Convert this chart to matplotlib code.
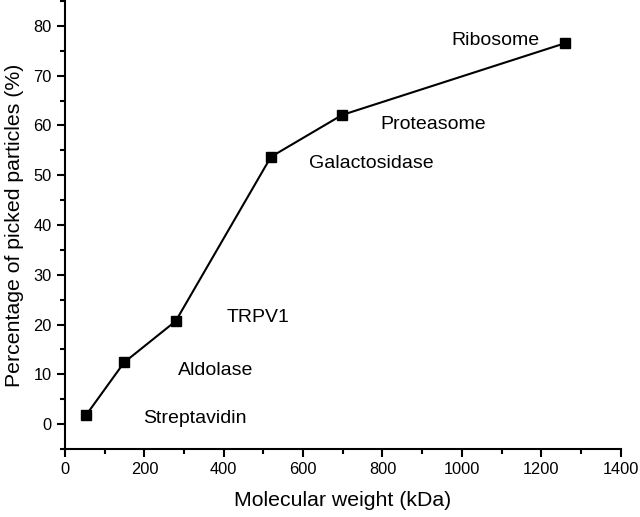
import matplotlib
matplotlib.use('Agg')
import matplotlib.pyplot as plt
from matplotlib.ticker import MultipleLocator

plt.rcParams['font.family'] = ['Liberation Sans', 'DejaVu Sans']

# data
mw = [53, 149, 279, 519, 698, 1259]
picked = [1.8, 12.4, 20.7, 53.7, 62.1, 76.5]

names = ['Streptavidin', 'Aldolase', 'TRPV1', 'Galactosidase', 'Proteasome', 'Ribosome']
label_x = [196, 284, 408, 616, 795, 973]
label_y = [1.2, 10.8, 21.5, 52.3, 60.1, 77.0]

fig = plt.figure(figsize=(6.4, 5.17), dpi=100)
ax = fig.add_axes([0.1016, 0.1315, 0.868, 0.8665])

ax.plot(mw, picked, color='black', linewidth=1.5, marker='s', markersize=6.5)

for name, x, y in zip(names, label_x, label_y):
    ax.text(x, y, name, fontsize=14, ha='left', va='center')

ax.set_xlim(0, 1400)
ax.set_ylim(-5, 85)
ax.xaxis.set_major_locator(MultipleLocator(200))
ax.xaxis.set_minor_locator(MultipleLocator(100))
ax.yaxis.set_major_locator(MultipleLocator(10))
ax.yaxis.set_minor_locator(MultipleLocator(5))

ax.spines['top'].set_visible(False)
ax.spines['right'].set_visible(False)
for s in ['left', 'bottom']:
    ax.spines[s].set_linewidth(1.5)
ax.tick_params(which='major', direction='out', length=6, width=1.5, labelsize=11.8)
ax.tick_params(which='minor', direction='out', length=3.5, width=1.5)

ax.set_xlabel('Molecular weight (kDa)', fontsize=15.3, labelpad=10)
ax.set_ylabel('Percentage of picked particles (%)', fontsize=15.3, labelpad=7)

fig.savefig('out.png', dpi=100)
